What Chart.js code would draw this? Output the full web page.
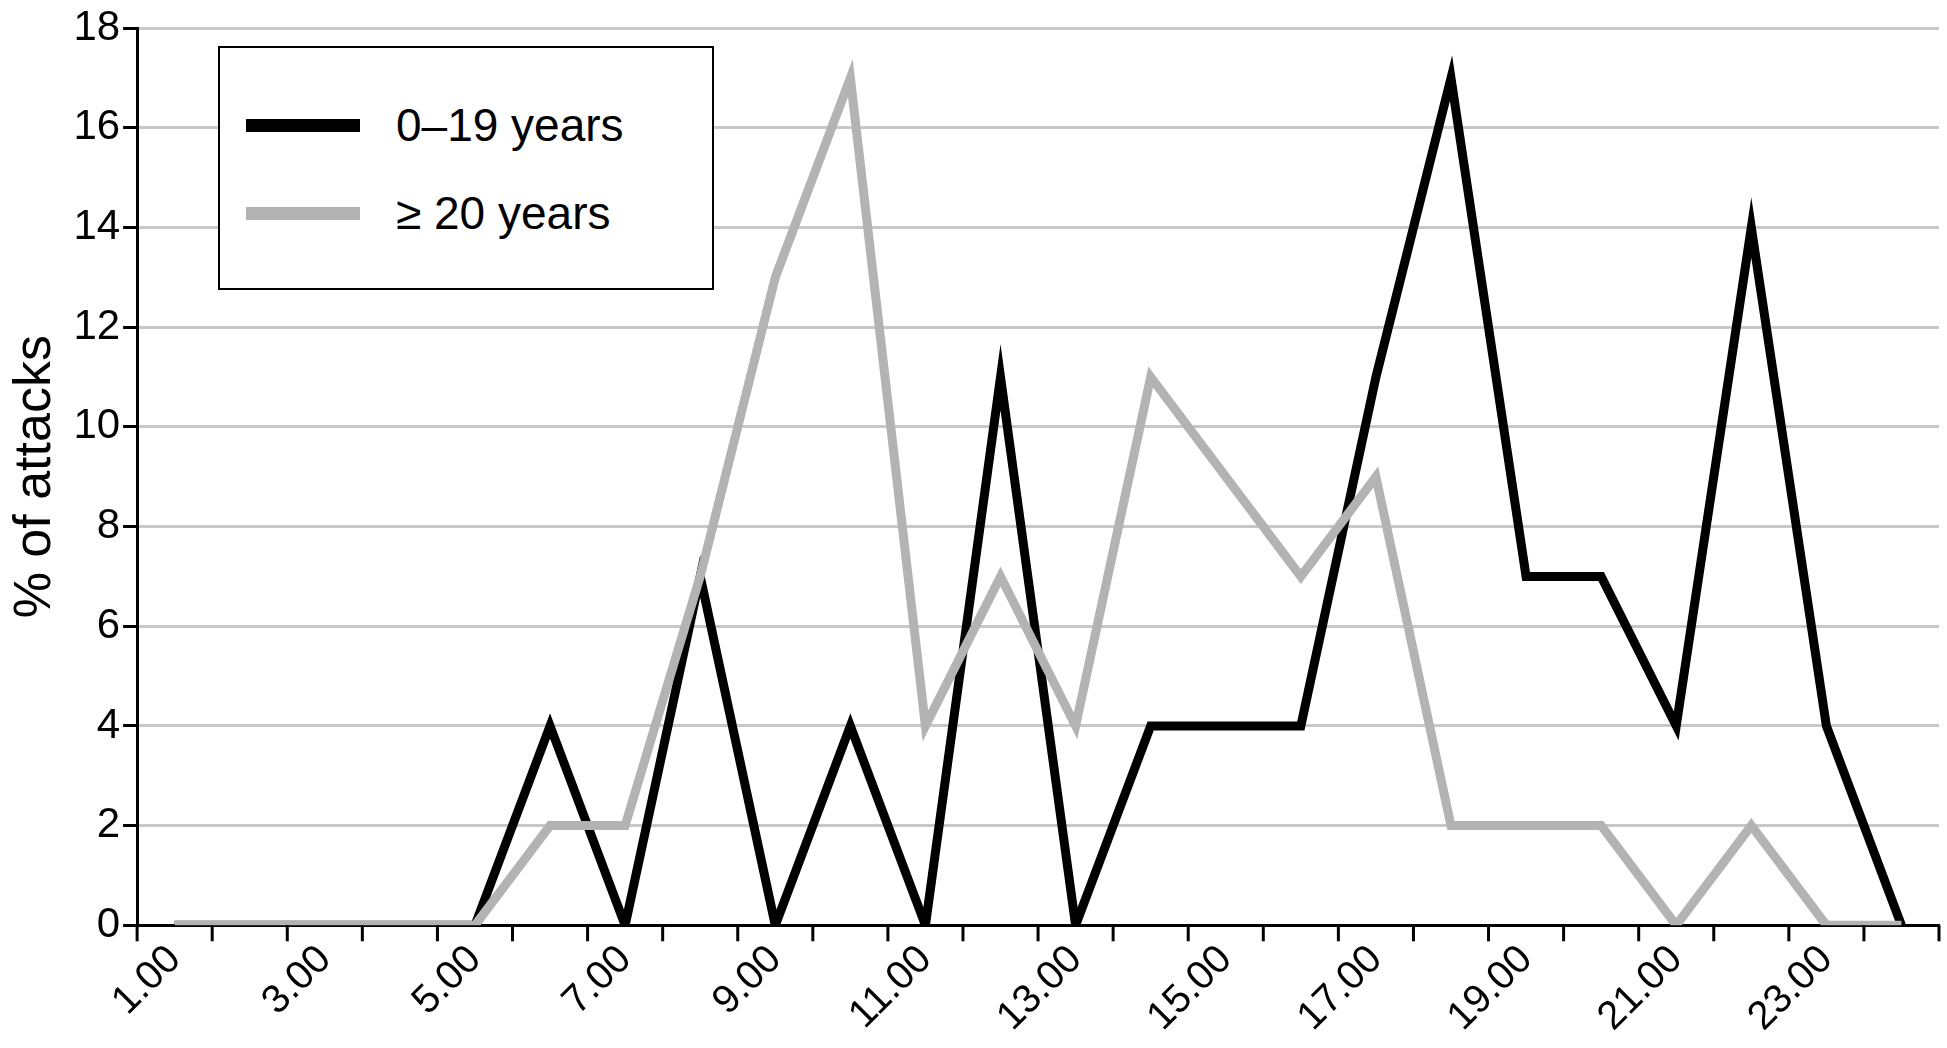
<!DOCTYPE html>
<html><head><meta charset="utf-8">
<script src="https://cdn.jsdelivr.net/npm/chart.js@4/dist/chart.umd.min.js"></script>
<style>
html,body{margin:0;padding:0;background:#fff;}
#wrap{position:relative;width:1947px;height:1048px;}
#legend{position:absolute;left:218px;top:46px;width:496px;height:244px;border:2px solid #000;background:#fff;font-family:"Liberation Sans",Arial,sans-serif;font-size:46px;box-sizing:border-box;}
.item{position:absolute;left:26px;display:flex;align-items:center;}
.sw{width:114px;height:13px;margin-right:36px;}
</style></head><body>
<div id="wrap"><canvas id="c" width="1947" height="1048"></canvas>
<div id="legend">
<div class="item" style="top:50px"><div class="sw" style="background:#000"></div>0–19 years</div>
<div class="item" style="top:138px"><div class="sw" style="background:#b3b3b3"></div>≥ 20 years</div>
</div></div>
<script>
const categories=["1.00","2.00","3.00","4.00","5.00","6.00","7.00","8.00","9.00","10.00","11.00","12.00","13.00","14.00","15.00","16.00","17.00","18.00","19.00","20.00","21.00","22.00","23.00","24.00"];
const young=[0,0,0,0,0,4,0,7,0,4,0,11,0,4,4,4,11,17,7,7,4,14,4,0];
const adult=[0,0,0,0,0,2,2,7,13,17,4,7,4,11,9,7,9,2,2,2,0,2,0,0];
const yTicks=[0,2,4,6,8,10,12,14,16,18];
new Chart(document.getElementById('c'),{
type:'line',
data:{labels:categories,datasets:[
{data:adult,borderColor:'#b3b3b3',borderWidth:9,pointRadius:0,tension:0,borderJoinStyle:'miter'},
{data:young,borderColor:'#000',borderWidth:9,pointRadius:0,tension:0,borderJoinStyle:'miter'}]},
options:{responsive:false,animation:false,
layout:{padding:{left:0,right:8,top:12,bottom:4}},
plugins:{legend:{display:false},tooltip:{enabled:false}},
scales:{
x:{offset:true,grid:{display:false,offset:true,drawOnChartArea:false},border:{color:'#000',width:3},
ticks:{autoSkip:false,maxRotation:45,minRotation:45,color:'#000',font:{family:'Liberation Sans',size:40},
callback:(v,i)=>i%2===0?categories[i]:''}},
y:{min:0,max:18,afterBuildTicks:a=>{a.ticks=yTicks.map(v=>({value:v}));},
grid:{color:'#c8c8c8',lineWidth:3,tickLength:14,tickColor:'#000'},border:{color:'#000',width:3},
title:{display:true,text:'% of attacks',color:'#000',font:{family:'Liberation Sans',size:52},padding:4},
ticks:{color:'#000',font:{family:'Liberation Sans',size:42}}}
}},
plugins:[{id:'xt',afterDraw(ch){const x=ch.scales.x,y=ch.chartArea.bottom,c=ch.ctx;c.save();c.strokeStyle='#000';c.lineWidth=3;
const w=(x.right-x.left)/categories.length;for(let i=0;i<=categories.length;i++){const px=x.left+i*w;c.beginPath();c.moveTo(px,y);c.lineTo(px,y+16);c.stroke();}c.restore();}}]
});
</script></body></html>
